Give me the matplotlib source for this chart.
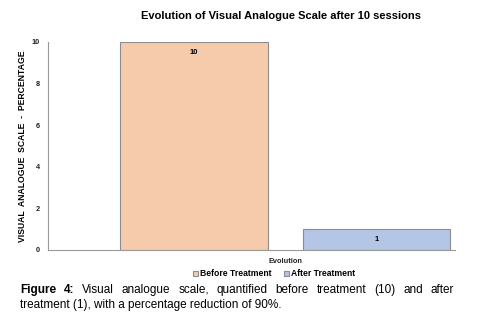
import matplotlib
matplotlib.use("Agg")
import matplotlib.pyplot as plt

categories = ["Before Treatment", "After Treatment"]
values = [10, 1]
colors = ["#F6CBAC", "#B4C6E6"]
group_label = "Evolution"
yticks = [0, 2, 4, 6, 8, 10]

plt.rcParams['font.family'] = ['Liberation Sans', 'DejaVu Sans']

fig = plt.figure(figsize=(4.8, 3.26), dpi=100)
ax = fig.add_axes([48 / 480, 1 - 250 / 326, (455 - 48) / 480, (250 - 42) / 326])

bars = []
for i, (name, v, c) in enumerate(zip(categories, values, colors)):
    b = ax.bar(i, v, width=0.81, color=c, edgecolor="#8c8c8c", linewidth=0.8, label=name)
    bars.append(b)

ax.bar_label(bars[0], padding=-10, fontsize=5.5, fontweight="bold")
ax.bar_label(bars[1], label_type="center", fontsize=5.5, fontweight="bold")

ax.set_xlim(-0.8, 1.43)
ax.set_ylim(0, 10)
ax.set_yticks(yticks)
ax.set_xticks([0.5])
ax.set_xticklabels([group_label])
ax.tick_params(axis="both", length=0, labelsize=5.3, pad=6)
for lab in ax.get_xticklabels() + ax.get_yticklabels():
    lab.set_fontweight("bold")
    lab.set_color("#222222")
ax.spines["top"].set_visible(False)
ax.spines["right"].set_visible(False)
for s in ("left", "bottom"):
    ax.spines[s].set_color("#999999")
    ax.spines[s].set_linewidth(0.8)

ax.set_ylabel("VISUAL  ANALOGUE  SCALE  -  PERCENTAGE", fontsize=6.2, fontweight="bold", labelpad=3)

fig.text(281 / 480, 1 - 16 / 326, "Evolution of Visual Analogue Scale after 10 sessions",
         ha="center", va="center", fontsize=8, fontweight="bold")

fig.legend(loc="center", bbox_to_anchor=(274 / 480, 1 - 274 / 326), ncol=2, frameon=False,
           prop={"size": 6.2, "weight": "bold"}, handlelength=0.6, handleheight=0.6,
           handletextpad=0.15, columnspacing=1.5)

# caption, first line justified
line1 = ["Figure", "4:", "Visual", "analogue", "scale,", "quantified", "before", "treatment", "(10)", "and", "after"]
line2 = "treatment (1), with a percentage reduction of 90%."
cap_size = 8.5
fig.canvas.draw()
renderer = fig.canvas.get_renderer()
left, right = 20, 454
words = []
total = 0
for k, w in enumerate(line1):
    t = fig.text(0, 1 - 290 / 326, w, fontsize=cap_size, va="center",
                 fontweight="bold" if k < 2 else "normal")
    wd = t.get_window_extent(renderer).width
    words.append((t, wd))
    total += wd
gap = (right - left - total) / (len(line1) - 1)
x = left
for t, wd in words:
    t.set_x(x / 480)
    x += wd + gap
fig.text(left / 480, 1 - 305 / 326, line2, fontsize=cap_size, va="center")

fig.savefig("out.png", dpi=100)
